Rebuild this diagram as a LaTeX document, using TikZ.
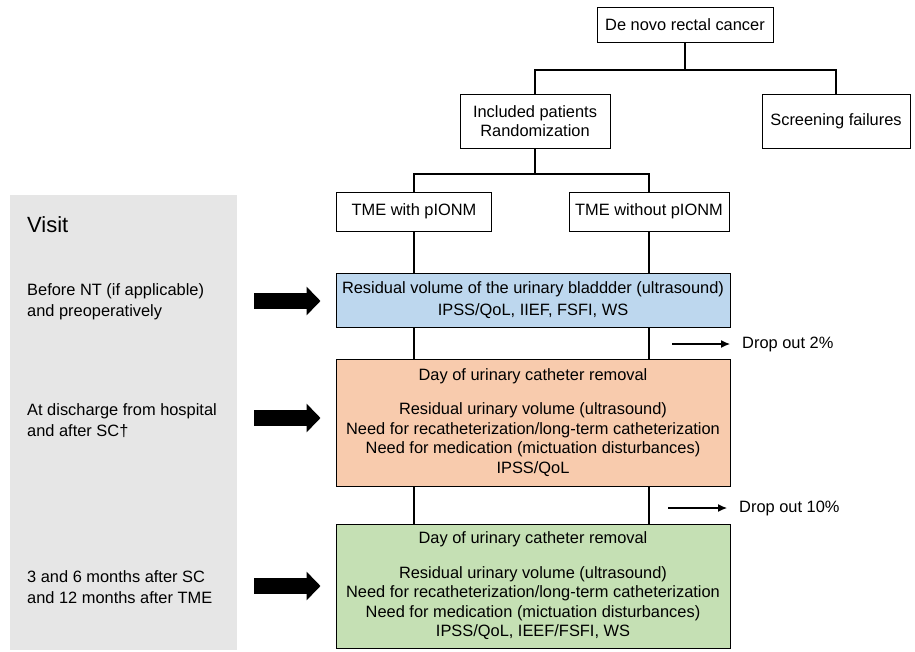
\documentclass[tikz,border=0pt]{standalone}
\usepackage{fontspec}
\setmainfont{Liberation Sans}
\usepackage{tikz}
\usetikzlibrary{arrows}
\usetikzlibrary{arrows.meta}

\definecolor{bluefill}{RGB}{189,215,238}
\definecolor{orangefill}{RGB}{248,203,173}
\definecolor{greenfill}{RGB}{197,224,180}
\definecolor{panelgray}{RGB}{230,230,230}

\begin{document}
\begin{tikzpicture}[x=1pt,y=-1pt,
	box/.style={draw,line width=1pt,align=center,inner sep=0pt,font=\fontsize{16.4}{19.5}\selectfont},
	stage/.style={box,minimum width=394pt},
	visittext/.style={anchor=west,align=left,inner sep=0pt,font=\fontsize{16.4}{21}\selectfont},
	branch/.style={line width=2pt},
	link/.style={line width=1.2pt},
	dropline/.style={line width=1.2pt,arrows={-Latex[length=9pt,width=8pt]}},
	bigarrow/.style={line width=16pt,arrows={-Triangle[length=14pt,width=28pt]}}]
			
			\useasboundingbox (0,0) rectangle (915,651);
			
			% visit panel
			\node[fill=panelgray,minimum width=227pt,minimum height=455pt,inner sep=0pt] (panel) at (123.5,422.5) {};
			\node[visittext,font=\fontsize{22}{26}\selectfont] (visit) at (27,225) {Visit};
			\node[visittext] (v1) at (27,302) {Before NT (if applicable)\\and preoperatively};
			\node[visittext] (v2) at (27,421) {At discharge from hospital\\and after SC†};
			\node[visittext] (v3) at (27,587) {3 and 6 months after SC\\and 12 months after TME};
			
			% tree
			\node[box,minimum width=176pt,minimum height=35pt] (denovo) at (685,24.5) {De novo rectal cancer};
			\node[box,minimum width=150pt,minimum height=54pt] (incl) at (535,121) {Included patients\\Randomization};
			\node[box,minimum width=148pt,minimum height=54pt] (screen) at (836,121) {Screening failures};
			\node[box,minimum width=155pt,minimum height=39pt] (tmewith) at (414,211.5) {TME with pIONM};
			\node[box,minimum width=160pt,minimum height=39pt] (tmewo) at (649,211.5) {TME without pIONM};
			
			\draw[branch] (denovo.south) -- ++(0,27) coordinate (split1);
			\draw[branch] (incl.north) |- (split1) -| (screen.north);
			\draw[branch] (incl.south) -- ++(0,25) coordinate (split2);
			\draw[branch] (tmewith.north) |- (split2) -| (tmewo.north);
			
			% stages
			\node[stage,fill=bluefill,minimum height=54pt] (blue) at (533,300) {Residual volume of the urinary bladdder (ultrasound)\\[2pt]IPSS/QoL, IIEF, FSFI, WS};
			\node[stage,fill=orangefill,minimum height=127pt] (orange) at (533,422.5) {Day of urinary catheter removal\\[15pt]Residual urinary volume (ultrasound)\\Need for recatheterization/long-term catheterization\\Need for medication (mictuation disturbances)\\IPSS/QoL};
			\node[stage,fill=greenfill,minimum height=124pt] (green) at (533,586) {Day of urinary catheter removal\\[15pt]Residual urinary volume (ultrasound)\\Need for recatheterization/long-term catheterization\\Need for medication (mictuation disturbances)\\IPSS/QoL, IEEF/FSFI, WS};
			
			\foreach \arm in {tmewith,tmewo} {
				\draw[link] (\arm.south) -- (\arm.south |- blue.north);
				\draw[link] (\arm.south |- blue.south) -- (\arm.south |- orange.north);
				\draw[link] (\arm.south |- orange.south) -- (\arm.south |- green.north);
			}
			
			% drop outs
			\node[anchor=west,inner sep=0pt,font=\fontsize{16.4}{19.5}\selectfont] (drop1) at (742,344) {Drop out 2\%};
			\node[anchor=west,inner sep=0pt,font=\fontsize{16.4}{19.5}\selectfont] (drop2) at (739,508) {Drop out 10\%};
			\coordinate (d1) at (672,344);
			\coordinate (d2) at (668,508);
			\draw[dropline] (d1) -- ([xshift=-12pt]drop1.west);
			\draw[dropline] (d2) -- ([xshift=-12pt]drop2.west);
			
			% big arrows
			\coordinate (a1) at (254,301);
			\coordinate (a2) at (254,418);
			\coordinate (a3) at (254,586);
			\draw[bigarrow,shorten >=15pt] (a1) -- (a1 -| blue.west);
			\draw[bigarrow,shorten >=15pt] (a2) -- (a2 -| orange.west);
			\draw[bigarrow,shorten >=15pt] (a3) -- (a3 -| green.west);
			
\end{tikzpicture}
\end{document}
